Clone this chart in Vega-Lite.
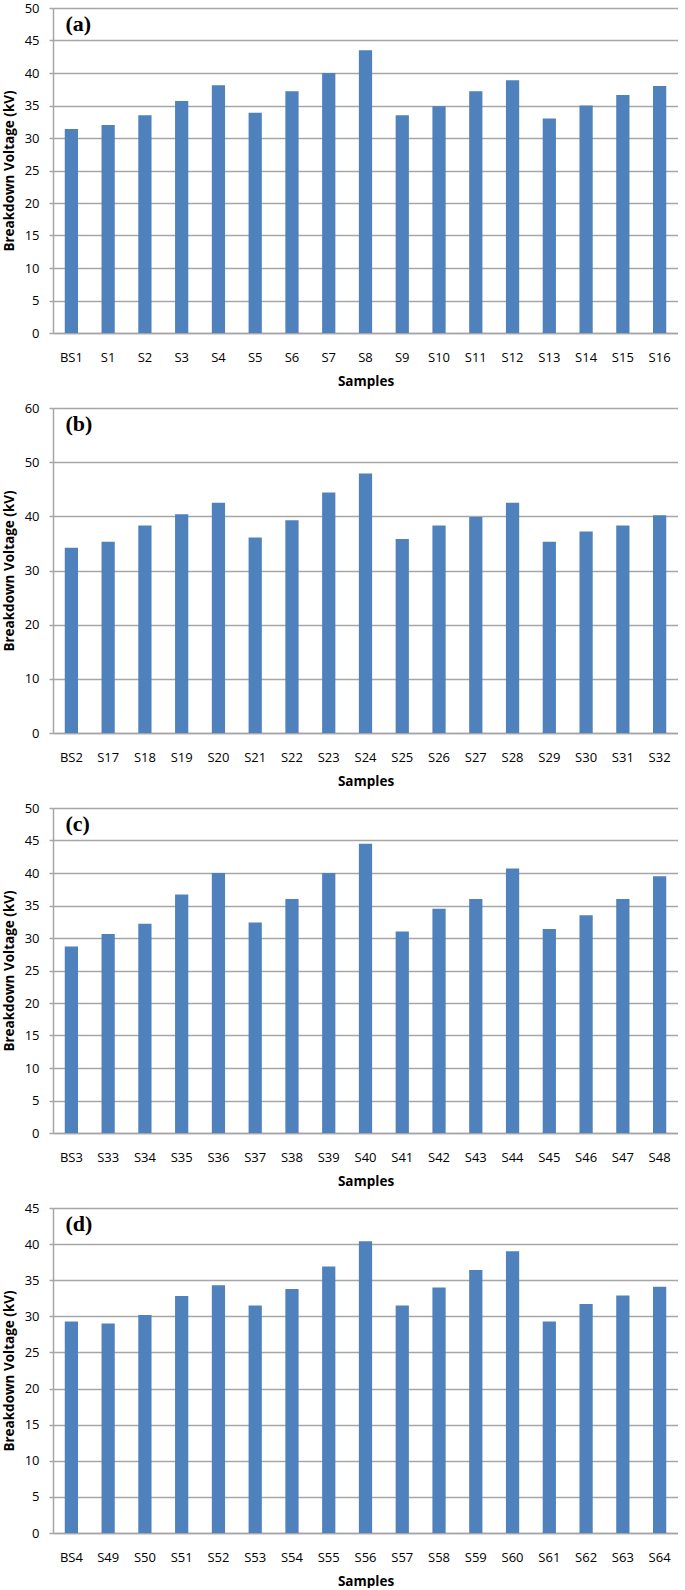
{
  "$schema": "https://vega.github.io/schema/vega-lite/v6.json",
  "padding": {"left": 2, "top": 2, "right": 0, "bottom": 0},
  "spacing": 14,
  "config": {
    "view": {"stroke": null},
    "axis": {
      "labelFont": "Open Sans", "labelFontSize": 13, "labelColor": "#000",
      "titleFont": "Open Sans", "titleFontSize": 13.5, "titleFontWeight": "bold", "titleColor": "#000",
      "gridColor": "#a6a6a6", "gridWidth": 1.5, "domainColor": "#a6a6a6", "domainWidth": 1.5,
      "tickColor": "#a6a6a6", "tickWidth": 1.5
    },
    "axisX": {"ticks": false, "tickSize": 0, "labelPadding": 18, "titlePadding": 10, "labelAngle": 0, "grid": false},
    "axisY": {"tickSize": 4, "labelPadding": 10, "titlePadding": 8, "grid": true},
    "bar": {"color": "#4f81bd"},
    "text": {"font": "Liberation Serif", "fontSize": 22, "fontWeight": "bold", "color": "#000", "align": "left", "baseline": "top", "dx": -6, "dy": 6}
  },
  "vconcat": [
    {
      "width": 625, "height": 325,
      "layer": [
        {
          "data": {"values": [
            {"s": "BS1", "v": 31.4}, {"s": "S1", "v": 32.0}, {"s": "S2", "v": 33.5}, {"s": "S3", "v": 35.7},
            {"s": "S4", "v": 38.1}, {"s": "S5", "v": 33.9}, {"s": "S6", "v": 37.2}, {"s": "S7", "v": 40.0},
            {"s": "S8", "v": 43.5}, {"s": "S9", "v": 33.5}, {"s": "S10", "v": 34.9}, {"s": "S11", "v": 37.2},
            {"s": "S12", "v": 38.9}, {"s": "S13", "v": 33.0}, {"s": "S14", "v": 35.0}, {"s": "S15", "v": 36.6},
            {"s": "S16", "v": 38.0}
          ]},
          "mark": "bar",
          "encoding": {
            "x": {"field": "s", "type": "nominal", "sort": null, "title": "Samples", "scale": {"paddingInner": 0.64, "paddingOuter": 0.32}},
            "y": {"field": "v", "type": "quantitative", "title": "Breakdown Voltage (kV)", "scale": {"domain": [0, 50], "nice": false}, "axis": {"values": [0, 5, 10, 15, 20, 25, 30, 35, 40, 45, 50], "tickCount": 11}}
          }
        },
        {
          "data": {"values": [{"lab": "(a)"}]},
          "mark": "text",
          "encoding": {
            "x": {"datum": "BS1", "type": "nominal"},
            "y": {"datum": 50, "type": "quantitative", "title": "Breakdown Voltage (kV)", "scale": {"domain": [0, 50], "nice": false}, "axis": {"values": [0, 5, 10, 15, 20, 25, 30, 35, 40, 45, 50], "tickCount": 11}},
            "text": {"field": "lab"}
          }
        }
      ]
    },
    {
      "width": 625, "height": 325,
      "layer": [
        {
          "data": {"values": [
            {"s": "BS2", "v": 34.2}, {"s": "S17", "v": 35.3}, {"s": "S18", "v": 38.3}, {"s": "S19", "v": 40.4},
            {"s": "S20", "v": 42.5}, {"s": "S21", "v": 36.1}, {"s": "S22", "v": 39.3}, {"s": "S23", "v": 44.4},
            {"s": "S24", "v": 47.9}, {"s": "S25", "v": 35.8}, {"s": "S26", "v": 38.3}, {"s": "S27", "v": 39.9},
            {"s": "S28", "v": 42.5}, {"s": "S29", "v": 35.3}, {"s": "S30", "v": 37.2}, {"s": "S31", "v": 38.3},
            {"s": "S32", "v": 40.2}
          ]},
          "mark": "bar",
          "encoding": {
            "x": {"field": "s", "type": "nominal", "sort": null, "title": "Samples", "scale": {"paddingInner": 0.64, "paddingOuter": 0.32}},
            "y": {"field": "v", "type": "quantitative", "title": "Breakdown Voltage (kV)", "scale": {"domain": [0, 60], "nice": false}, "axis": {"values": [0, 10, 20, 30, 40, 50, 60], "tickCount": 7}}
          }
        },
        {
          "data": {"values": [{"lab": "(b)"}]},
          "mark": "text",
          "encoding": {
            "x": {"datum": "BS2", "type": "nominal"},
            "y": {"datum": 60, "type": "quantitative", "title": "Breakdown Voltage (kV)", "scale": {"domain": [0, 60], "nice": false}, "axis": {"values": [0, 10, 20, 30, 40, 50, 60], "tickCount": 7}},
            "text": {"field": "lab"}
          }
        }
      ]
    },
    {
      "width": 625, "height": 325,
      "layer": [
        {
          "data": {"values": [
            {"s": "BS3", "v": 28.7}, {"s": "S33", "v": 30.6}, {"s": "S34", "v": 32.2}, {"s": "S35", "v": 36.7},
            {"s": "S36", "v": 40.0}, {"s": "S37", "v": 32.4}, {"s": "S38", "v": 36.0}, {"s": "S39", "v": 40.0},
            {"s": "S40", "v": 44.5}, {"s": "S41", "v": 31.0}, {"s": "S42", "v": 34.5}, {"s": "S43", "v": 36.0},
            {"s": "S44", "v": 40.7}, {"s": "S45", "v": 31.4}, {"s": "S46", "v": 33.5}, {"s": "S47", "v": 36.0},
            {"s": "S48", "v": 39.5}
          ]},
          "mark": "bar",
          "encoding": {
            "x": {"field": "s", "type": "nominal", "sort": null, "title": "Samples", "scale": {"paddingInner": 0.64, "paddingOuter": 0.32}},
            "y": {"field": "v", "type": "quantitative", "title": "Breakdown Voltage (kV)", "scale": {"domain": [0, 50], "nice": false}, "axis": {"values": [0, 5, 10, 15, 20, 25, 30, 35, 40, 45, 50], "tickCount": 11}}
          }
        },
        {
          "data": {"values": [{"lab": "(c)"}]},
          "mark": "text",
          "encoding": {
            "x": {"datum": "BS3", "type": "nominal"},
            "y": {"datum": 50, "type": "quantitative", "title": "Breakdown Voltage (kV)", "scale": {"domain": [0, 50], "nice": false}, "axis": {"values": [0, 5, 10, 15, 20, 25, 30, 35, 40, 45, 50], "tickCount": 11}},
            "text": {"field": "lab"}
          }
        }
      ]
    },
    {
      "width": 625, "height": 325,
      "layer": [
        {
          "data": {"values": [
            {"s": "BS4", "v": 29.3}, {"s": "S49", "v": 29.0}, {"s": "S50", "v": 30.2}, {"s": "S51", "v": 32.8},
            {"s": "S52", "v": 34.3}, {"s": "S53", "v": 31.5}, {"s": "S54", "v": 33.8}, {"s": "S55", "v": 36.9},
            {"s": "S56", "v": 40.4}, {"s": "S57", "v": 31.5}, {"s": "S58", "v": 34.0}, {"s": "S59", "v": 36.4},
            {"s": "S60", "v": 39.0}, {"s": "S61", "v": 29.3}, {"s": "S62", "v": 31.7}, {"s": "S63", "v": 32.9},
            {"s": "S64", "v": 34.1}
          ]},
          "mark": "bar",
          "encoding": {
            "x": {"field": "s", "type": "nominal", "sort": null, "title": "Samples", "scale": {"paddingInner": 0.64, "paddingOuter": 0.32}},
            "y": {"field": "v", "type": "quantitative", "title": "Breakdown Voltage (kV)", "scale": {"domain": [0, 45], "nice": false}, "axis": {"values": [0, 5, 10, 15, 20, 25, 30, 35, 40, 45], "tickCount": 10}}
          }
        },
        {
          "data": {"values": [{"lab": "(d)"}]},
          "mark": "text",
          "encoding": {
            "x": {"datum": "BS4", "type": "nominal"},
            "y": {"datum": 45, "type": "quantitative", "title": "Breakdown Voltage (kV)", "scale": {"domain": [0, 45], "nice": false}, "axis": {"values": [0, 5, 10, 15, 20, 25, 30, 35, 40, 45], "tickCount": 10}},
            "text": {"field": "lab"}
          }
        }
      ]
    }
  ]
}
